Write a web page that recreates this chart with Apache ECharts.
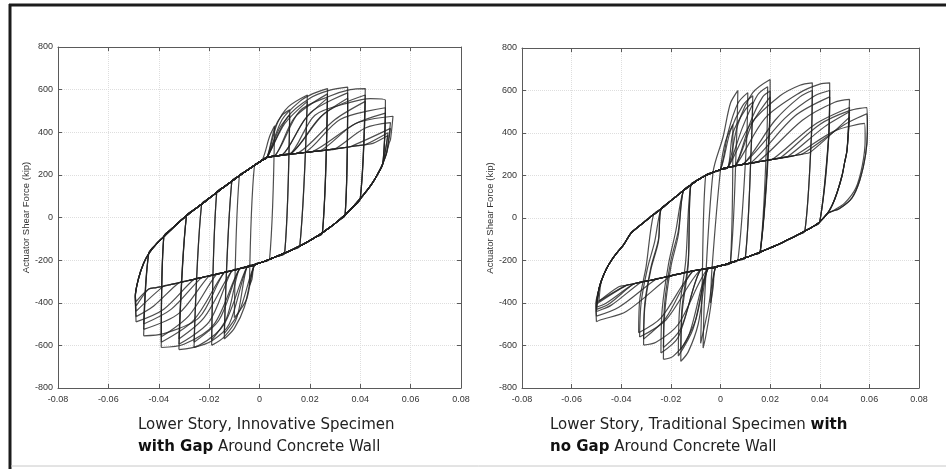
<!DOCTYPE html>
<html>
<head>
<meta charset="utf-8">
<script src="https://cdn.jsdelivr.net/npm/echarts@6/dist/echarts.min.js"></script>
<style>
html, body { margin: 0; padding: 0; background: #fff; }
#chart { width: 946px; height: 469px; }
</style>
</head>
<body>
<div id="chart"></div>
<script>
// axis ticks (story drift, kip)
var driftTicks = [-0.08, -0.06, -0.04, -0.02, 0, 0.02, 0.04, 0.06, 0.08];
var forceTicks = [-800, -600, -400, -200, 0, 200, 400, 600, 800];

// ---- left: innovative specimen, gap around wall ----
// thick bands that every cycle follows, [drift, force]
var gapUpperBand = [
    [-0.0495, -360], [-0.048, -285], [-0.046, -215], [-0.044, -170], [-0.041, -125], [-0.038, -90],
    [-0.035, -55], [-0.032, -22], [-0.029, 8], [-0.026, 36], [-0.023, 62], [-0.020, 90],
    [-0.017, 117], [-0.014, 144], [-0.011, 170], [-0.008, 196], [-0.005, 220], [-0.002, 245],
    [0.001, 268], [0.003, 282], [0.006, 288], [0.009, 293], [0.012, 297], [0.015, 301],
    [0.018, 305], [0.021, 309], [0.024, 313], [0.027, 317], [0.030, 322], [0.033, 327],
    [0.036, 332], [0.039, 337], [0.042, 342], [0.045, 348], [0.048, 354], [0.051, 360], [0.053, 366]
];
var gapLowerBand = [
    [-0.0495, -348], [-0.047, -343], [-0.044, -336], [-0.041, -329], [-0.038, -322], [-0.035, -314],
    [-0.032, -306], [-0.029, -298], [-0.026, -290], [-0.023, -282], [-0.020, -274], [-0.017, -266],
    [-0.014, -258], [-0.011, -250], [-0.008, -241], [-0.005, -232], [-0.002, -222], [0.001, -210],
    [0.004, -196], [0.007, -182], [0.010, -167], [0.013, -151], [0.016, -134], [0.019, -115],
    [0.022, -94], [0.025, -71], [0.028, -46], [0.031, -18], [0.034, 13], [0.037, 48],
    [0.040, 88], [0.043, 132], [0.045, 165], [0.047, 205], [0.049, 255], [0.0505, 305],
    [0.0515, 350], [0.052, 365]
];
// each cycle: [neg drift, neg force, pos drift, pos force]
var gapPeaks = [
    [-0.004, -320, 0.006, 430], [-0.010, -470, 0.012, 505], [-0.014, -570, 0.019, 575],
    [-0.019, -600, 0.019, 545], [-0.026, -610, 0.027, 605], [-0.026, -585, 0.027, 580],
    [-0.032, -620, 0.035, 612], [-0.032, -595, 0.035, 585], [-0.039, -610, 0.042, 605],
    [-0.039, -585, 0.042, 575], [-0.046, -555, 0.050, 550], [-0.046, -525, 0.050, 515],
    [-0.049, -490, 0.053, 475], [-0.049, -465, 0.052, 445], [-0.049, -440, 0.052, 418],
    [-0.049, -415, 0.051, 398], [-0.014, -545, 0.012, 480], [-0.019, -575, 0.027, 560],
    [-0.032, -570, 0.035, 560], [-0.039, -560, 0.042, 545], [-0.046, -500, 0.050, 490],
    [-0.049, -395, 0.051, 385]
];
// drift where a cycle leaves the upper / lower band
var gapLeave = [
    [0.001, -0.002], [0.003, -0.002], [0.003, -0.002], [0.003, -0.005], [0.003, -0.005],
    [0.006, -0.008], [0.003, -0.005], [0.009, -0.011], [0.006, -0.008], [0.012, -0.014],
    [0.012, -0.014], [0.018, -0.020], [0.024, -0.026], [0.030, -0.032], [0.036, -0.038],
    [0.042, -0.044], [0.003, -0.003], [0.009, -0.008], [0.012, -0.011], [0.015, -0.017],
    [0.021, -0.023], [0.046, -0.046]
];
// extra read points: after neg peak, before pos peak, after pos peak, before neg peak
var gapRise = [[], [], [], [], [], [], [], [], [], [], [], [],
    [[-0.0493, -375]], [[-0.0493, -372]], [[-0.0493, -370]], [[-0.0493, -368]],
    [], [], [], [], [], [[-0.0493, -366]]];
var gapClimb = [
    [[0.004, 380]], [[0.006, 420], [0.009, 480]], [[0.007, 440], [0.0115, 520]], [[0.010, 440]],
    [[0.009, 460], [0.016, 545], [0.021, 580]], [[0.014, 470]],
    [[0.011, 470], [0.020, 560], [0.028, 598]], [[0.020, 490]],
    [[0.016, 500], [0.028, 570], [0.036, 600]], [[0.026, 490]],
    [[0.022, 480], [0.036, 540], [0.044, 558]], [[0.032, 460]],
    [[0.038, 440]], [[0.042, 420]], [], [],
    [[0.008, 420]], [[0.018, 460]], [[0.024, 470]], [[0.030, 460]], [[0.038, 440]], []
];
var gapDrop = [[], [], [], [], [], [], [], [], [], [], [], [], [], [], [], [], [], [], [], [], [], []];
var gapFall = [
    [[-0.003, -290]], [[-0.005, -380], [-0.008, -440]], [[-0.006, -420], [-0.010, -520]],
    [[-0.009, -470], [-0.014, -560]], [[-0.012, -500], [-0.019, -580]], [[-0.016, -480]],
    [[-0.014, -500], [-0.024, -600]], [[-0.020, -490]], [[-0.018, -500], [-0.030, -595]],
    [[-0.026, -480]], [[-0.024, -470], [-0.038, -545]], [[-0.032, -450]],
    [[-0.038, -430]], [[-0.042, -415]], [], [],
    [[-0.008, -440]], [[-0.013, -470]], [[-0.022, -470]], [[-0.028, -460]], [[-0.035, -430]], []
];

// ---- right: traditional specimen, no gap ----
var nogapUpperBand = [
    [-0.050, -390], [-0.049, -335], [-0.048, -295], [-0.046, -240], [-0.044, -200], [-0.042, -168],
    [-0.039, -125], [-0.036, -70], [-0.033, -40], [-0.030, -12], [-0.027, 16], [-0.024, 42],
    [-0.021, 72], [-0.018, 100], [-0.015, 128], [-0.012, 155], [-0.009, 180], [-0.006, 200],
    [-0.003, 215], [0.000, 228], [0.003, 238], [0.006, 246], [0.009, 252], [0.012, 258],
    [0.015, 264], [0.018, 270], [0.021, 276], [0.024, 282], [0.027, 288], [0.030, 294],
    [0.033, 301], [0.036, 308], [0.039, 315], [0.042, 322], [0.045, 330], [0.048, 338],
    [0.051, 346], [0.053, 352]
];
var nogapLowerBand = [
    [-0.050, -345], [-0.047, -338], [-0.044, -331], [-0.041, -324], [-0.038, -317], [-0.035, -310],
    [-0.032, -302], [-0.029, -295], [-0.026, -288], [-0.023, -280], [-0.020, -272], [-0.017, -264],
    [-0.014, -256], [-0.011, -249], [-0.008, -243], [-0.005, -237], [-0.002, -231], [0.001, -222],
    [0.004, -211], [0.007, -199], [0.010, -187], [0.013, -174], [0.016, -160], [0.019, -146],
    [0.022, -131], [0.025, -115], [0.028, -98], [0.031, -80], [0.034, -61], [0.037, -42],
    [0.040, -18], [0.043, 20], [0.045, 60], [0.047, 120], [0.049, 200], [0.050, 260],
    [0.051, 320], [0.0515, 355]
];
var nogapPeaks = [
    [-0.004, -400, 0.005, 440], [-0.007, -612, 0.007, 600], [-0.008, -590, 0.011, 590],
    [-0.016, -675, 0.013, 575], [-0.017, -650, 0.020, 652], [-0.023, -665, 0.019, 618],
    [-0.024, -635, 0.020, 598], [-0.031, -598, 0.037, 636], [-0.0326, -560, 0.044, 636],
    [-0.033, -540, 0.037, 600], [-0.050, -488, 0.044, 600], [-0.050, -462, 0.052, 558],
    [-0.050, -440, 0.052, 520], [-0.050, -420, 0.059, 520], [-0.050, -405, 0.058, 445],
    [-0.049, -392, 0.052, 475], [-0.016, -620, 0.013, 545], [-0.023, -610, 0.020, 570],
    [-0.031, -570, 0.044, 570], [-0.050, -430, 0.052, 500], [-0.050, -398, 0.059, 490]
];
var nogapLeave = [
    [0.000, -0.002], [-0.003, -0.002], [0.000, -0.002], [0.000, -0.005], [0.003, -0.005],
    [0.003, -0.005], [0.006, -0.008], [0.003, -0.005], [0.006, -0.008], [0.009, -0.011],
    [0.009, -0.020], [0.015, -0.026], [0.021, -0.032], [0.024, -0.035], [0.030, -0.038],
    [0.036, -0.041], [0.003, -0.005], [0.006, -0.008], [0.012, -0.011], [0.027, -0.035],
    [0.033, -0.040]
];
var nogapRise = [
    [[-0.0035, -250]], [[-0.0065, -400]], [[-0.0075, -380]],
    [[-0.0155, -450], [-0.013, -220]], [[-0.0165, -430], [-0.014, -200]],
    [[-0.0225, -450], [-0.020, -230], [-0.017, -80]], [[-0.0235, -430], [-0.021, -220], [-0.018, -60]],
    [[-0.0305, -420], [-0.028, -240], [-0.025, -110]], [[-0.032, -400], [-0.0295, -240], [-0.0265, -110]],
    [[-0.0325, -380], [-0.030, -230]], [[-0.0502, -420]], [[-0.0502, -400]], [], [], [], [],
    [[-0.0155, -420], [-0.013, -200]], [[-0.0225, -400], [-0.020, -200], [-0.017, -60]],
    [[-0.0305, -400], [-0.028, -230], [-0.025, -100]], [], []
];
var nogapClimb = [
    [[0.002, 360]], [[0.001, 380], [0.004, 540]], [[0.003, 400], [0.007, 540]],
    [[0.004, 410], [0.009, 530]], [[0.007, 440], [0.013, 590]], [[0.009, 430], [0.015, 580]],
    [[0.012, 450], [0.017, 570]], [[0.012, 440], [0.024, 575], [0.032, 625]],
    [[0.018, 470], [0.032, 590], [0.040, 630]], [[0.022, 460], [0.032, 570]],
    [[0.026, 470], [0.038, 575]], [[0.033, 460], [0.046, 545]], [[0.038, 440]],
    [[0.040, 440], [0.052, 505]], [[0.046, 410]], [],
    [[0.005, 400], [0.010, 510]], [[0.013, 450]], [[0.030, 480]], [[0.042, 430]], [[0.050, 440]]
];
var nogapDrop = [
    [], [[0.0065, 380]], [[0.0105, 360]], [[0.0125, 370]], [[0.0197, 400]], [[0.0187, 390]],
    [[0.0195, 380]], [[0.0367, 400]], [[0.0437, 400]], [[0.0366, 380]], [[0.0436, 380]], [], [],
    [[0.0592, 420], [0.0585, 300], [0.0562, 180], [0.053, 95], [0.048, 45], [0.0442, 28]],
    [[0.0583, 370], [0.0572, 250], [0.0545, 140], [0.050, 70], [0.0455, 35]], [],
    [[0.0125, 360]], [[0.0195, 370]], [[0.0435, 370]], [],
    [[0.0592, 400], [0.0585, 300], [0.0562, 180], [0.053, 95], [0.048, 45], [0.0442, 28]]
];
var nogapFall = [
    [[-0.003, -330]], [[-0.004, -420], [-0.006, -560]], [[-0.005, -430]],
    [[-0.009, -500], [-0.013, -630]], [[-0.011, -520]], [[-0.013, -560], [-0.019, -650]],
    [[-0.017, -560]], [[-0.017, -500], [-0.026, -585]], [[-0.022, -480]], [[-0.024, -470]],
    [[-0.038, -440], [-0.0485, -480]], [[-0.041, -420]], [[-0.044, -410]], [[-0.046, -400]], [], [],
    [[-0.010, -480]], [[-0.016, -520]], [[-0.022, -470]], [[-0.045, -405]], []
];

// one closed cycle: neg peak -> up the upper band -> pos peak -> down the lower band -> neg peak
function buildLoop(upper, lower, pk, leave, rise, climb, drop, fall) {
    var pts = [[pk[0], pk[1]]];
    rise.forEach(function(p) { pts.push(p); });
    var from = pts[pts.length - 1][0] + 0.001;
    upper.forEach(function(p) {
        if (p[0] >= from && p[0] <= leave[0]) pts.push(p);
    });
    climb.forEach(function(p) { pts.push(p); });
    pts.push([pk[2], pk[3]]);
    drop.forEach(function(p) { pts.push(p); });
    var to = pts[pts.length - 1][0] - 0.001;
    for (var i = lower.length - 1; i >= 0; i--) {
        if (lower[i][0] <= to && lower[i][0] >= leave[1]) pts.push(lower[i]);
    }
    fall.forEach(function(p) { pts.push(p); });
    pts.push([pk[0], pk[1]]);
    return pts;
}

var gapLoops = gapPeaks.map(function(pk, i) {
    return buildLoop(gapUpperBand, gapLowerBand, pk, gapLeave[i], gapRise[i], gapClimb[i], gapDrop[i], gapFall[i]);
});
var nogapLoops = nogapPeaks.map(function(pk, i) {
    return buildLoop(nogapUpperBand, nogapLowerBand, pk, nogapLeave[i], nogapRise[i], nogapClimb[i], nogapDrop[i], nogapFall[i]);
});

var tickFont = 'Liberation Sans Narrow, Liberation Sans, sans-serif';
var frameColor = '#5a5a5a';

function xAxisFor(grid, pos) {
    var main = pos === 'bottom';
    return {
        gridIndex: grid, type: 'value', position: pos,
        min: driftTicks[0], max: driftTicks[driftTicks.length - 1], interval: 0.02,
        axisLine: { show: true, onZero: false, lineStyle: { color: frameColor, width: 1 } },
        axisTick: { show: true, inside: true, length: 4, lineStyle: { color: frameColor } },
        axisLabel: {
            show: main, fontSize: 9, color: '#333', margin: 7, fontFamily: tickFont,
            formatter: function(v) { return String(Math.round(v * 100) / 100); }
        },
        splitLine: { show: main, lineStyle: { color: '#dedede', type: 'dotted', width: 1 } }
    };
}
function yAxisFor(grid, pos) {
    var main = pos === 'left';
    return {
        gridIndex: grid, type: 'value', position: pos,
        min: forceTicks[0], max: forceTicks[forceTicks.length - 1], interval: 200,
        name: main ? 'Actuator Shear Force (kip)' : '',
        nameLocation: 'middle', nameGap: 27,
        nameTextStyle: { fontSize: 9.5, color: '#333', fontFamily: 'Liberation Sans, sans-serif' },
        axisLine: { show: true, onZero: false, lineStyle: { color: frameColor, width: 1 } },
        axisTick: { show: true, inside: true, length: 4, lineStyle: { color: frameColor } },
        axisLabel: { show: main, fontSize: 9, color: '#333', margin: 5, fontFamily: tickFont },
        splitLine: { show: main, lineStyle: { color: '#dedede', type: 'dotted', width: 1 } }
    };
}

function loopSeries(loops, axis) {
    return loops.map(function(d) {
        return {
            type: 'line', xAxisIndex: axis, yAxisIndex: axis, data: d,
            symbol: 'none', smooth: 0.3, silent: true, animation: false,
            lineStyle: { color: '#222', width: 1.2, opacity: 0.8 }
        };
    });
}

var captionStyle = {
    fontSize: 15, fontFamily: 'DejaVu Sans, sans-serif', color: '#222', fontWeight: 'normal', lineHeight: 22,
    rich: { b: { fontSize: 15, fontFamily: 'DejaVu Sans, sans-serif', color: '#111', fontWeight: 'bold', lineHeight: 22 } }
};

var myChart = echarts.init(document.getElementById('chart'), null, { renderer: 'canvas' });
myChart.setOption({
    animation: false,
    backgroundColor: '#fff',
    title: [
        { left: 133, top: 409, text: 'Lower Story, Innovative Specimen\n{b|with Gap} Around Concrete Wall', textStyle: captionStyle },
        { left: 545, top: 409, text: 'Lower Story, Traditional Specimen {b|with}\n{b|no Gap} Around Concrete Wall', textStyle: captionStyle }
    ],
    grid: [
        { left: 58, top: 47, width: 403, height: 341 },
        { left: 522, top: 48, width: 397, height: 340 }
    ],
    xAxis: [xAxisFor(0, 'bottom'), xAxisFor(0, 'top'), xAxisFor(1, 'bottom'), xAxisFor(1, 'top')],
    yAxis: [yAxisFor(0, 'left'), yAxisFor(0, 'right'), yAxisFor(1, 'left'), yAxisFor(1, 'right')],
    series: loopSeries(gapLoops, 0).concat(loopSeries(nogapLoops, 2)),
    graphic: [
        { type: 'line', shape: { x1: 9, y1: 5, x2: 946, y2: 5 }, style: { stroke: '#1c1c1c', lineWidth: 3 } },
        { type: 'line', shape: { x1: 10, y1: 4, x2: 10, y2: 469 }, style: { stroke: '#1c1c1c', lineWidth: 3 } },
        { type: 'line', shape: { x1: 11, y1: 466, x2: 946, y2: 466 }, style: { stroke: '#c8c8c8', lineWidth: 1 } }
    ]
});
</script>
</body>
</html>
